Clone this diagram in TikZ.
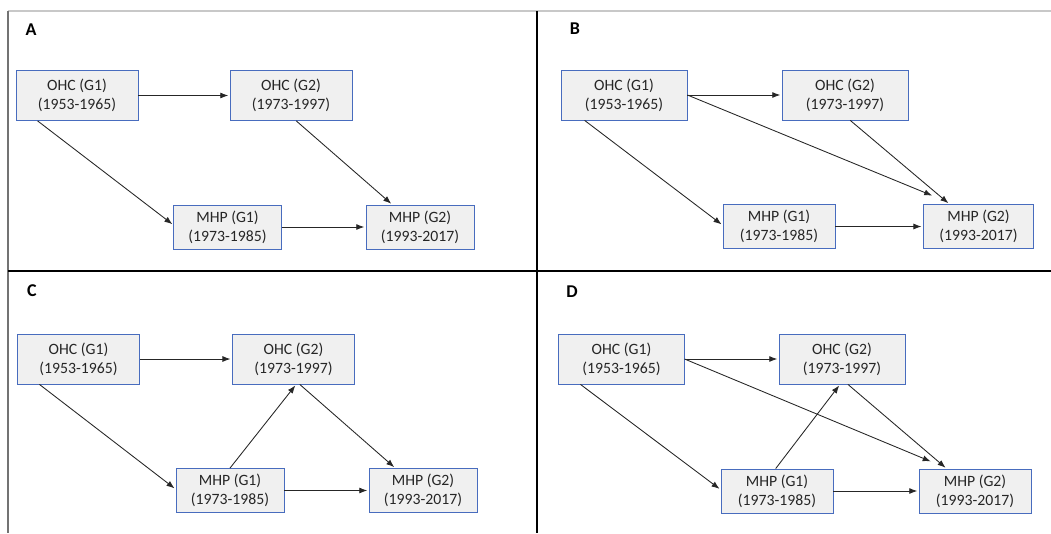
\documentclass[tikz,border=0pt]{standalone}
\usepackage{fontspec}
\setmainfont{Carlito}
\usetikzlibrary{arrows.meta}
\definecolor{boxblue}{RGB}{72,108,190}
\definecolor{boxgray}{RGB}{240,240,240}
\definecolor{framegray}{RGB}{200,200,200}
\begin{document}
\begin{tikzpicture}[
    x=0.75pt, y=-0.75pt,
    box/.style={draw=boxblue,fill=boxgray,line width=0.6pt,align=center,inner sep=0pt,
        text=black!85,font=\fontsize{11.8}{14.2}\selectfont},
    ohcbox/.style={box,minimum height=37.5pt},
    mhpbox/.style={box,minimum height=33pt},
    link/.style={->,line width=0.65pt,black!85,shorten >=1pt},
    panel/.style={font=\fontsize{13.5}{15}\selectfont\bfseries,inner sep=0pt},
    >={Latex[length=6pt,width=4.5pt]}
]
    \useasboundingbox (0,0) rectangle (1051,533);
    % Frame and dividers
    \draw[framegray,line width=0.8pt] (8,11) -- (1051,11);
    \draw[black!55,line width=0.8pt] (8,11) -- (8,533);
    \draw[black,line width=2.2pt] (8,271) -- (1051,271);
    \draw[black,line width=2.2pt] (537,11) -- (537,533);

    % Panel A
    \node[panel] (lA) at (31,30) {A};
    \node[ohcbox,minimum width=91.5pt] (a-o1) at (77,95.5) {OHC (G1)\\(1953-1965)};
    \node[ohcbox,minimum width=91.5pt] (a-o2) at (291,95.5) {OHC (G2)\\(1973-1997)};
    \node[mhpbox,minimum width=80.5pt] (a-m1) at (227.5,227) {MHP (G1)\\(1973-1985)};
    \node[mhpbox,minimum width=81pt] (a-m2) at (420,227) {MHP (G2)\\(1993-2017)};
    \draw[link] (a-o1.east) -- (a-o2.west);
    \draw[link] ([xshift=16.5pt]a-o1.south west) -- ([yshift=1.5pt]a-m1.west);
    \draw[link] ([xshift=50pt]a-o2.south west) -- ([xshift=20pt]a-m2.north west);
    \draw[link] (a-m1.east) -- (a-m2.west);

    % Panel B
    \node[panel] (lB) at (575,29) {B};
    \node[ohcbox,minimum width=94.5pt] (b-o1) at (624,95) {OHC (G1)\\(1953-1965)};
    \node[ohcbox,minimum width=94.5pt] (b-o2) at (845,95) {OHC (G2)\\(1973-1997)};
    \node[mhpbox,minimum width=84pt] (b-m1) at (779,226.5) {MHP (G1)\\(1973-1985)};
    \node[mhpbox,minimum width=83pt] (b-m2) at (978.5,226.5) {MHP (G2)\\(1993-2017)};
    \draw[link] (b-o1.east) -- (b-o2.west);
    \draw[link] ([xshift=18pt]b-o1.south west) -- ([yshift=1pt]b-m1.west);
    \draw[link] (b-o1.east) -- ([xshift=8pt,yshift=6pt]b-m2.north west);
    \draw[link] ([xshift=51.5pt]b-o2.south west) -- ([xshift=20pt]b-m2.north west);
    \draw[link] (b-m1.east) -- (b-m2.west);

    % Panel C
    \node[panel] (lC) at (32,291) {C};
    \node[ohcbox,minimum width=92pt] (c-o1) at (78.5,359) {OHC (G1)\\(1953-1965)};
    \node[ohcbox,minimum width=92pt] (c-o2) at (293.5,359) {OHC (G2)\\(1973-1997)};
    \node[mhpbox,minimum width=81pt] (c-m1) at (230,490.5) {MHP (G1)\\(1973-1985)};
    \node[mhpbox,minimum width=81pt] (c-m2) at (423,490.5) {MHP (G2)\\(1993-2017)};
    \draw[link] (c-o1.east) -- (c-o2.west);
    \draw[link] ([xshift=17pt]c-o1.south west) -- ([yshift=1pt]c-m1.west);
    \draw[link] (c-m1.north) -- ([xshift=2pt]c-o2.south);
    \draw[link] ([xshift=51pt]c-o2.south west) -- ([xshift=20pt]c-m2.north west);
    \draw[link] (c-m1.east) -- (c-m2.west);

    % Panel D
    \node[panel] (lD) at (572,292) {D};
    \node[ohcbox,minimum width=94pt] (d-o1) at (621.5,359) {OHC (G1)\\(1953-1965)};
    \node[ohcbox,minimum width=94.5pt] (d-o2) at (842,359) {OHC (G2)\\(1973-1997)};
    \node[mhpbox,minimum width=84pt] (d-m1) at (777,491) {MHP (G1)\\(1973-1985)};
    \node[mhpbox,minimum width=84pt] (d-m2) at (975,491) {MHP (G2)\\(1993-2017)};
    \draw[link] (d-o1.east) -- (d-o2.west);
    \draw[link] ([xshift=16.5pt]d-o1.south west) -- ([yshift=1pt]d-m1.west);
    \draw[link] (d-o1.east) -- ([xshift=10pt,yshift=5pt]d-m2.north west);
    \draw[link] ([xshift=52pt]d-o2.south west) -- ([xshift=21pt]d-m2.north west);
    \draw[link] ([xshift=-1pt]d-m1.north) -- ([xshift=-1.5pt]d-o2.south);
    \draw[link] (d-m1.east) -- (d-m2.west);
\end{tikzpicture}
\end{document}
